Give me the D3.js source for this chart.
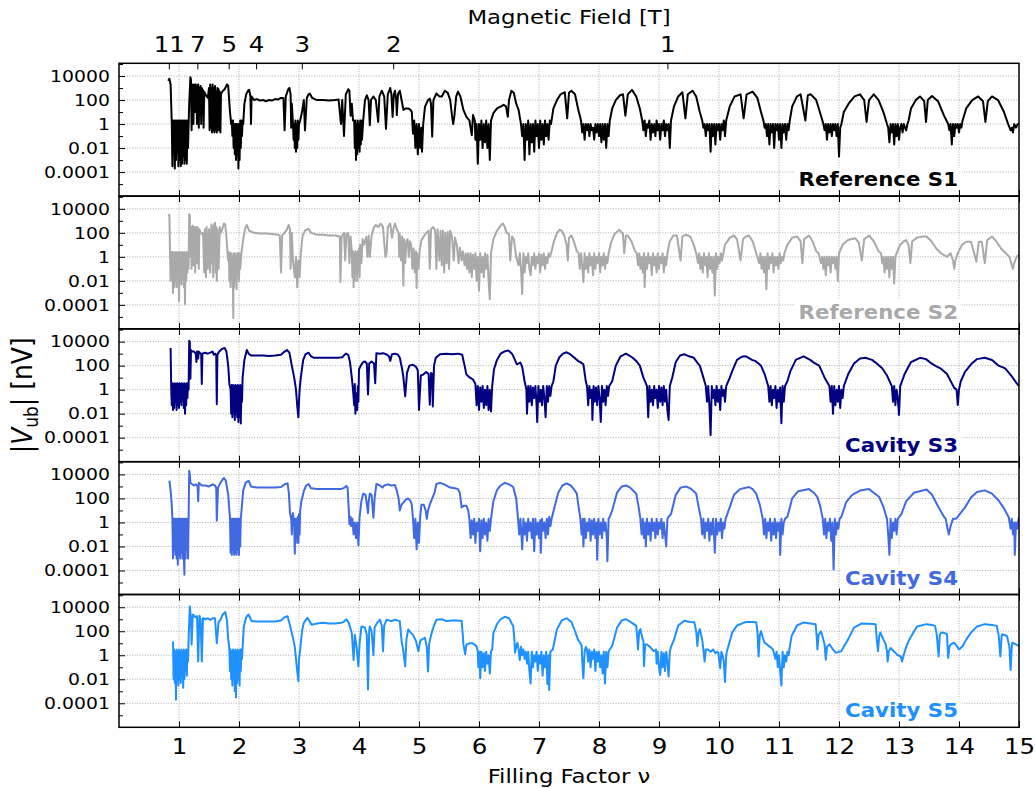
<!DOCTYPE html>
<html>
<head>
<meta charset="utf-8">
<script src="https://cdn.jsdelivr.net/npm/d3@7"></script>
<style>
  body { margin: 0; background: #fff; }
  svg text { font-family: "DejaVu Sans", sans-serif; }
</style>
</head>
<body>
<div id="chart"></div>
<script>
// |V_ub| traces: [filling factor, nV]
const s1 = [
[0.82,4e3],[0.84,6e3],[0.86,2e3],[0.88,1],
[0.89,3e-4],[0.90,2],[0.91,0.01],[0.92,2],[0.93,2e-4],[0.94,2],[0.95,1e-3],[0.96,2],[0.97,5e-3],[0.98,2],[0.99,3e-4],[1.00,2],[1.01,1e-3],[1.02,2],[1.03,3e-4],[1.04,2],[1.05,5e-4],[1.06,2],[1.07,2e-3],[1.08,2],[1.09,5e-4],[1.10,2],[1.11,1e-3],[1.12,2],[1.13,5e-4],[1.14,2],[1.15,0.01],
[1.17,50],[1.19,8e3],[1.20,5e3],[1.21,0.3],
[1.22,1e3],[1.23,2e3],[1.24,1],[1.25,1e3],[1.26,2e3],[1.27,10],[1.28,2e3],[1.29,500],[1.30,1],[1.31,1e3],[1.32,2e3],[1.33,0.5],[1.34,1e3],[1.35,300],[1.36,1.5e3],[1.37,1],[1.38,1e3],[1.40,600],[1.41,0.5],[1.42,500],[1.44,300],[1.46,200],[1.48,150],
[1.50,1e3],[1.51,0.3],[1.52,2e3],[1.53,0.5],[1.54,1e3],[1.55,0.2],[1.56,2e3],[1.57,0.3],[1.58,1e3],[1.59,0.2],[1.60,1.5e3],[1.61,0.3],[1.62,500],[1.63,0.2],[1.64,1e3],[1.65,0.3],[1.66,800],[1.67,0.3],[1.68,500],[1.69,0.2],[1.70,300],[1.72,500],
[1.76,800],[1.80,2e3],[1.82,1.5e3],[1.85,10],[1.87,1],
[1.88,2],[1.89,0.1],[1.90,2],[1.91,0.01],[1.92,1],[1.93,3e-3],[1.94,1],[1.95,1e-3],[1.96,1],[1.97,3e-3],[1.98,1],[1.99,2e-4],[2.00,1],[2.01,1e-3],[2.02,2],[2.03,0.01],[2.04,2],[2.05,0.1],[2.06,2],[2.07,1],
[2.09,50],[2.12,300],[2.15,600],[2.17,700],[2.19,200],[2.20,1],[2.21,200],[2.25,100],[2.30,120],[2.35,90],[2.40,100],[2.45,80],[2.50,100],[2.55,90],[2.60,120],[2.65,110],[2.70,150],[2.74,150],
[2.76,0.3],[2.78,200],[2.82,800],[2.84,1e3],[2.86,300],[2.87,0.5],[2.88,50],[2.90,1],[2.91,0.05],[2.92,1],[2.93,0.01],[2.94,2],[2.95,5e-3],[2.96,1],[2.97,0.01],[2.98,2],[2.99,0.05],[3.00,1],[3.02,2],
[3.05,10],[3.08,100],[3.10,0.3],[3.13,150],[3.16,300],[3.18,350],[3.22,150],[3.30,100],[3.40,100],[3.50,90],[3.60,100],[3.66,110],[3.70,1],[3.72,100],[3.75,0.1],[3.78,300],[3.82,800],[3.84,600],[3.86,5],[3.88,50],[3.90,2],
[3.92,2],[3.93,0.01],[3.94,2],[3.95,1e-3],[3.96,1],[3.97,3e-3],[3.98,2],[3.99,0.01],[4.00,1],[4.01,5e-3],[4.02,2],[4.03,0.02],[4.04,2],[4.05,0.05],[4.07,2],
[4.10,100],[4.13,250],[4.16,100],[4.18,0.8],[4.20,100],[4.24,200],[4.28,100],[4.32,1.5],[4.34,200],[4.38,600],[4.42,200],[4.45,0.4],[4.48,300],[4.52,1e3],[4.54,300],[4.56,4],[4.58,300],[4.60,600],[4.62,100],[4.63,5.6],[4.65,300],[4.68,600],[4.71,100],[4.74,15],[4.78,20],[4.82,20],[4.86,15],[4.88,10],[4.90,0.16],
[4.92,2],[4.94,0.01],[4.96,1],[4.98,3e-3],[5.00,1],[5.02,0.01],[5.04,0.5],[5.05,5e-3],[5.07,1],
[5.10,28],[5.15,100],[5.18,130],[5.20,50],[5.22,0.09],[5.24,100],[5.29,350],[5.34,200],[5.38,200],[5.43,600],[5.48,400],[5.52,100],[5.55,5],[5.57,1],[5.59,5],[5.62,200],[5.65,500],[5.69,200],[5.74,15],[5.79,4],[5.84,2],[5.88,0.12],[5.90,5.6],[5.93,2],
[5.94,0.05],[5.96,1],[5.98,5e-4],[6.00,1],[6.02,0.05],[6.04,2],[6.06,0.01],[6.08,1],[6.10,0.03],[6.12,2],[6.14,0.01],[6.16,1],[6.18,1e-3],[6.20,2],
[6.24,8],[6.30,20],[6.36,28],[6.41,40],[6.45,30],[6.48,4],[6.50,100],[6.54,600],[6.58,400],[6.62,50],[6.66,15],[6.70,1],
[6.72,0.1],[6.74,1],[6.76,1e-3],[6.78,1],[6.80,0.05],[6.82,2],[6.84,3e-3],[6.86,1],[6.88,0.03],[6.90,1],[6.92,5e-3],[6.94,2],[6.96,0.1],[6.98,1],[7.00,0.01],[7.02,2],[7.04,0.05],[7.06,1],[7.08,0.02],[7.10,2],[7.12,0.1],[7.14,1],[7.16,0.05],[7.18,2],[7.20,1],
[7.24,20],[7.30,100],[7.36,300],[7.43,450],[7.47,3],[7.50,400],[7.54,600],[7.60,300],[7.65,20],[7.70,2],
[7.72,0.2],[7.74,1],[7.76,0.05],[7.78,1],[7.80,0.3],[7.82,1],[7.84,0.1],[7.86,1],[7.88,0.3],[7.90,0.5],[7.92,0.05],[7.94,1],[7.96,0.2],[7.98,1],[8.00,0.1],[8.02,1],[8.04,0.03],[8.06,1],[8.08,0.05],[8.10,1],[8.12,0.01],[8.14,1],[8.16,0.1],[8.18,2],
[8.22,20],[8.28,100],[8.35,250],[8.40,300],[8.44,5],[8.48,300],[8.55,700],[8.62,200],[8.68,20],[8.72,2],
[8.74,0.3],[8.76,2],[8.78,0.1],[8.80,1],[8.82,0.5],[8.84,2],[8.86,0.05],[8.88,1],[8.90,0.2],[8.92,1],[8.94,0.1],[8.96,2],[8.98,0.3],[9.00,1],[9.02,0.05],[9.04,1],[9.06,0.3],[9.08,2],[9.10,0.1],[9.12,1],[9.14,0.3],[9.16,1],[9.18,0.01],[9.20,2],
[9.25,30],[9.32,200],[9.39,450],[9.44,3],[9.48,300],[9.56,600],[9.62,200],[9.68,10],[9.72,2],
[9.74,0.5],[9.76,1],[9.78,0.1],[9.80,1],[9.82,0.3],[9.84,1],[9.86,5e-3],[9.88,1],[9.90,0.1],[9.92,1],[9.94,0.02],[9.96,1],[9.98,0.3],[10.00,1],[10.02,0.05],[10.04,1],[10.06,0.3],[10.08,2],[10.10,0.1],[10.12,2],
[10.18,30],[10.26,200],[10.36,300],[10.41,3],[10.46,300],[10.56,500],[10.64,150],[10.70,10],[10.74,2],
[10.76,0.5],[10.78,1],[10.80,0.1],[10.82,1],[10.84,0.02],[10.86,1],[10.88,0.2],[10.90,1],[10.92,0.01],[10.94,1],[10.96,0.3],[10.98,1],[11.00,0.05],[11.02,1],[11.04,0.01],[11.06,1],[11.08,0.2],[11.10,1],[11.12,0.05],[11.14,1],[11.16,0.3],[11.18,2],
[11.22,30],[11.30,200],[11.36,300],[11.44,2],[11.48,250],[11.53,300],[11.62,100],[11.70,5],[11.74,1],
[11.76,0.3],[11.78,1],[11.80,0.05],[11.82,1],[11.84,0.2],[11.86,1],[11.88,0.1],[11.90,1],[11.92,0.3],[11.94,1],[11.96,0.1],[11.98,1],[12.00,2e-3],[12.02,0.5],[12.04,1],
[12.08,10],[12.16,50],[12.26,200],[12.35,300],[12.42,100],[12.46,1.5],[12.50,100],[12.58,300],[12.66,100],[12.74,10],[12.80,1],
[12.82,0.5],[12.84,0.03],[12.86,1],[12.88,0.2],[12.90,1],[12.92,0.02],[12.94,1],[12.96,0.1],[12.98,1],[13.00,0.05],[13.02,0.5],[13.04,1],[13.06,0.2],[13.08,1],[13.10,0.5],[13.12,0.3],[13.14,1],[13.16,2],
[13.20,20],[13.28,100],[13.35,200],[13.42,80],[13.45,1.5],[13.48,100],[13.55,220],[13.65,80],[13.75,5],[13.82,1],
[13.84,0.3],[13.86,1],[13.88,0.02],[13.90,1],[13.92,0.1],[13.94,1],[13.96,0.5],[13.98,1],[14.00,0.2],[14.02,1],[14.04,0.5],[14.06,2],
[14.12,20],[14.22,100],[14.32,200],[14.40,80],[14.44,1.5],[14.48,80],[14.55,200],[14.65,100],[14.75,10],[14.82,1],[14.86,0.3],[14.88,0.5],[14.90,0.2],[14.92,1],[14.95,0.5],[14.98,1],[15.0,1]
];

const s2 = [
[0.82,3.5e3],[0.84,3e3],[0.85,2.5],
[0.86,0.01],[0.87,2.5],[0.88,0.05],[0.89,2.5],[0.90,1e-3],[0.91,2.5],[0.92,3e-3],[0.93,2],[0.94,0.01],[0.95,2.5],[0.96,3e-3],[0.97,2],[0.98,0.02],[0.99,2.5],[1.00,2e-4],[1.01,2.5],[1.02,0.01],[1.03,2],[1.04,5e-3],[1.05,2.5],[1.06,0.02],[1.07,2],[1.08,3e-3],[1.09,2.5],[1.10,1.2e-4],[1.11,2],[1.12,0.01],[1.13,2.5],[1.14,0.05],[1.15,2],[1.16,0.1],
[1.17,3.5e3],[1.18,3e3],[1.19,1],
[1.20,300],[1.21,0.1],[1.22,200],[1.23,400],[1.24,0.2],[1.25,300],[1.26,100],[1.27,0.05],[1.28,300],[1.29,200],[1.30,0.3],[1.31,300],[1.32,100],[1.33,0.1],[1.34,200],[1.36,100],[1.38,80],[1.40,100],[1.42,0.05],[1.43,200],[1.45,0.02],[1.46,300],[1.48,0.1],[1.50,200],[1.52,0.05],[1.54,500],[1.55,0.3],[1.56,300],[1.57,0.02],[1.58,400],[1.60,700],[1.61,0.05],[1.62,300],[1.63,0.01],[1.64,200],[1.66,0.1],[1.68,300],[1.70,100],[1.72,200],[1.75,600],[1.77,500],[1.79,50],[1.81,2],
[1.82,0.5],[1.83,2.5],[1.84,0.01],[1.85,2],[1.86,3e-3],[1.87,2],[1.88,0.01],[1.89,1],[1.90,2e-3],[1.905,8e-6],[1.91,2],[1.92,3e-3],[1.93,2],[1.94,0.01],[1.95,1],[1.96,2e-3],[1.97,2],[1.98,0.05],[1.99,2],[2.00,0.01],[2.01,2],[2.02,0.1],[2.04,2],
[2.07,30],[2.10,200],[2.13,450],[2.17,150],[2.25,100],[2.35,90],[2.45,90],[2.55,80],[2.65,70],[2.68,60],[2.70,0.05],[2.72,60],[2.76,100],[2.80,200],[2.83,450],[2.85,200],[2.86,0.1],[2.88,100],[2.90,0.5],[2.93,0.02],[2.95,1],[2.97,3e-3],[2.99,0.5],[3.01,0.02],[3.03,2],
[3.06,60],[3.10,150],[3.16,220],[3.20,100],[3.30,70],[3.40,70],[3.50,60],[3.60,60],[3.68,50],[3.69,8e-3],[3.71,50],[3.75,100],[3.77,0.5],[3.79,80],[3.82,100],[3.84,0.3],[3.86,50],
[3.88,3],[3.89,0.02],[3.90,3],[3.91,3e-3],[3.92,2],[3.93,0.01],[3.94,3],[3.95,0.05],[3.96,2],[3.97,0.01],[3.98,3],[3.99,0.1],[4.00,5],[4.01,0.02],[4.02,10],[4.04,0.3],[4.06,30],
[4.08,10],[4.12,45],[4.14,1],[4.16,60],[4.18,1],[4.21,60],[4.25,300],[4.28,450],[4.32,300],[4.36,600],[4.40,300],[4.44,1],[4.46,2],[4.48,300],[4.52,600],[4.55,40],[4.58,300],[4.60,600],[4.63,200],
[4.66,100],[4.67,1],[4.68,80],[4.70,0.5],[4.72,50],[4.74,4e-3],[4.75,30],[4.77,0.3],[4.79,20],[4.81,30],[4.83,1],[4.85,20],[4.87,10],[4.89,0.1],[4.91,5],[4.93,0.05],[4.95,3],[4.96,2.5e-3],[4.97,2],[4.99,0.1],[5.01,3],
[5.04,25],[5.08,50],[5.12,100],[5.16,150],[5.18,0.1],[5.20,200],[5.24,300],[5.27,150],[5.29,0.1],[5.31,200],[5.34,0.5],[5.36,150],[5.38,0.2],[5.40,150],[5.42,0.05],[5.44,100],[5.46,0.3],[5.48,120],[5.50,0.1],[5.52,150],[5.55,50],[5.58,0.5],[5.60,40],[5.63,10],[5.66,0.3],[5.68,6],[5.71,0.5],[5.73,3],[5.76,0.2],[5.78,2],
[5.80,0.1],[5.82,2],[5.84,0.05],[5.86,2],[5.88,0.02],[5.90,1.5],[5.92,0.1],[5.94,2],[5.96,0.01],[5.98,1],[6.00,1.5e-3],[6.02,2],[6.04,0.05],[6.06,1],[6.08,0.02],[6.10,2],[6.12,0.1],[6.14,1.5],[6.16,0.01],[6.18,3e-4],[6.20,2],
[6.24,30],[6.30,150],[6.36,400],[6.40,600],[6.43,300],[6.46,100],[6.50,80],[6.52,0.5],[6.55,50],[6.58,30],[6.62,1],
[6.66,0.2],[6.68,2],[6.70,0.1],[6.72,8e-4],[6.74,2],[6.76,0.05],[6.78,1],[6.80,0.3],[6.82,2],[6.84,0.1],[6.86,0.03],[6.88,1],[6.90,0.2],[6.92,2],[6.94,0.1],[6.96,1],[6.98,0.3],[7.00,2],[7.02,0.05],[7.04,1.5],[7.06,0.2],[7.08,2],[7.10,0.1],[7.12,1],[7.14,0.3],[7.16,2],[7.18,1],[7.20,2],
[7.25,20],[7.30,100],[7.34,180],[7.38,150],[7.42,60],[7.46,10],[7.48,0.5],[7.50,40],[7.54,60],[7.58,20],[7.63,3],[7.66,2],
[7.68,0.1],[7.70,2],[7.72,0.2],[7.74,8e-3],[7.76,2],[7.78,0.1],[7.80,1],[7.82,0.05],[7.84,2],[7.86,0.2],[7.88,1],[7.90,0.03],[7.92,2],[7.94,0.1],[7.96,1],[7.98,0.3],[8.00,2],[8.02,0.05],[8.04,1],[8.06,0.2],[8.08,2],[8.10,0.1],[8.12,1],[8.14,0.3],[8.16,2],
[8.20,15],[8.26,80],[8.34,180],[8.40,80],[8.42,2],[8.45,60],[8.48,60],[8.54,20],[8.60,3],[8.63,2],
[8.65,0.2],[8.67,2],[8.69,0.1],[8.71,1],[8.73,0.05],[8.75,2],[8.76,3e-3],[8.78,1],[8.80,0.1],[8.82,2],[8.84,0.3],[8.86,1],[8.88,0.03],[8.90,2],[8.92,0.2],[8.94,1],[8.96,0.05],[8.98,2],[9.00,0.1],[9.02,1],[9.04,0.3],[9.06,2],[9.08,0.05],[9.10,1],[9.12,0.2],[9.14,2],
[9.18,20],[9.24,60],[9.30,60],[9.33,5],[9.36,0.5],[9.39,50],[9.45,70],[9.52,50],[9.58,10],[9.62,2],
[9.65,0.3],[9.67,2],[9.69,0.1],[9.71,1],[9.73,0.05],[9.75,2],[9.77,0.2],[9.79,1],[9.81,0.02],[9.83,2],[9.85,0.1],[9.87,1],[9.89,0.05],[9.91,1],[9.93,6e-4],[9.95,2],[9.97,0.1],[9.99,1],[10.01,0.3],[10.03,2],[10.05,0.5],
[10.10,10],[10.18,40],[10.25,60],[10.30,30],[10.36,0.5],[10.40,30],[10.45,50],[10.50,60],[10.56,20],[10.62,2],
[10.67,0.3],[10.69,2],[10.71,0.1],[10.73,1],[10.75,0.05],[10.77,1],[10.79,2e-3],[10.81,2],[10.83,0.1],[10.85,1],[10.87,0.3],[10.89,2],[10.91,0.05],[10.93,1],[10.95,0.2],[10.97,1],[10.99,0.1],[11.01,2],[11.03,0.3],[11.05,1],[11.07,0.5],[11.09,2],
[11.14,10],[11.22,40],[11.30,50],[11.36,20],[11.39,0.3],[11.42,30],[11.50,60],[11.56,20],[11.62,3],[11.66,2],
[11.70,0.3],[11.72,1],[11.74,0.1],[11.76,1],[11.78,0.03],[11.80,1],[11.82,0.2],[11.84,1],[11.86,0.05],[11.88,1],[11.90,0.3],[11.92,1],[11.94,0.1],[11.96,1],[11.98,0.01],[12.00,2],
[12.06,10],[12.15,25],[12.27,35],[12.33,15],[12.38,0.5],[12.42,30],[12.50,60],[12.58,20],[12.66,3],[12.70,2],
[12.72,0.3],[12.74,1],[12.76,0.05],[12.78,1],[12.80,0.1],[12.82,1],[12.84,0.02],[12.86,1],[12.88,0.1],[12.90,1],[12.92,6e-3],[12.94,1],[12.96,2],
[13.02,10],[13.08,20],[13.12,25],[13.16,10],[13.19,0.3],[13.22,20],[13.30,40],[13.40,50],[13.46,50],[13.54,20],[13.62,5],[13.70,2],[13.80,1],[13.86,2],[13.90,0.5],[13.92,0.1],[13.94,0.5],[13.98,2],
[14.05,10],[14.12,18],[14.20,18],[14.29,0.4],[14.33,18],[14.38,18],[14.43,0.3],[14.47,25],[14.55,50],[14.62,20],[14.70,5],[14.78,2],[14.84,1],[14.88,0.2],[14.90,0.1],[14.92,0.3],[14.96,1],[15.0,1.5]
];

const s3 = [
[0.86,3e3],[0.87,1.5],
[0.88,0.05],[0.89,3.5],[0.90,0.02],[0.91,3],[0.92,0.03],[0.93,3.5],[0.94,0.1],[0.95,3],[0.96,0.02],[0.97,3.5],[0.98,0.05],[0.99,3],[1.00,0.03],[1.01,3.5],[1.02,0.1],[1.03,3],[1.04,0.05],[1.05,3.5],[1.06,0.2],[1.07,3],[1.08,0.03],[1.09,3.5],[1.10,0.01],[1.11,3],[1.12,0.05],[1.13,3.5],[1.14,0.2],[1.15,3],[1.16,1],
[1.17,1.2e4],[1.18,1e4],[1.19,8],[1.20,2e3],[1.22,1.5e3],[1.25,1.5e3],[1.28,1e3],[1.29,200],[1.30,1.5e3],[1.31,1.5e3],[1.32,400],[1.33,1.5e3],[1.36,1e3],[1.37,1e3],[1.38,3],[1.39,1e3],[1.43,1.2e3],[1.48,1e3],[1.52,1.2e3],[1.56,1.5e3],[1.58,800],[1.60,1e3],[1.62,800],[1.63,0.06],[1.64,800],[1.67,1.5e3],[1.72,2.5e3],[1.76,3e3],[1.79,1.5e3],[1.82,100],[1.84,3],
[1.86,1],[1.87,0.01],[1.88,2.5],[1.89,5e-3],[1.90,2.5],[1.91,0.01],[1.92,2],[1.93,3e-3],[1.94,2.5],[1.95,0.01],[1.96,2],[1.97,5e-3],[1.98,2.5],[1.99,2e-3],[2.00,2],[2.01,5e-3],[2.02,2.5],[2.03,1.5e-3],[2.04,2],[2.05,0.1],[2.06,10],
[2.09,300],[2.13,2e3],[2.16,1e3],[2.20,700],[2.30,700],[2.40,700],[2.50,650],[2.60,700],[2.70,800],[2.76,1.5e3],[2.80,2e3],[2.84,1.2e3],[2.88,100],[2.92,10],[2.95,1],[2.97,0.05],[2.99,5e-3],[3.00,0.1],[3.01,1],[3.03,10],
[3.07,300],[3.11,900],[3.16,1.2e3],[3.20,600],[3.25,450],[3.35,450],[3.45,450],[3.55,450],[3.65,450],[3.72,500],[3.78,1e3],[3.82,800],[3.85,200],[3.88,10],[3.90,1],[3.92,0.05],[3.93,3],[3.94,0.01],[3.96,0.5],[3.97,0.02],[3.98,2],[3.99,0.1],[4.00,50],
[4.03,100],[4.07,200],[4.10,220],[4.13,150],[4.15,0.4],[4.17,150],[4.21,220],[4.25,150],[4.27,3.5],[4.29,1.1e3],[4.35,1e3],[4.40,1.1e3],[4.45,900],[4.50,600],[4.52,250],[4.55,900],[4.60,1e3],[4.65,800],[4.68,450],[4.72,50],[4.74,10],[4.77,0.28],[4.80,25],[4.84,100],[4.90,120],[4.95,80],[4.98,40],[5.00,0.02],[5.03,15],[5.07,18],[5.12,30],[5.16,20],[5.18,0.056],[5.20,25],[5.22,20],[5.23,0.04],[5.25,100],[5.28,450],[5.35,900],[5.45,1e3],[5.55,900],[5.65,1e3],[5.72,800],[5.76,100],[5.79,18],[5.85,10],[5.90,7],[5.94,3],
[5.96,0.05],[5.98,2],[6.00,0.02],[6.02,1.5],[6.04,0.1],[6.06,2],[6.08,0.03],[6.10,1],[6.12,0.05],[6.14,2],[6.16,0.02],[6.18,1],[6.20,0.015],[6.22,2],
[6.25,50],[6.30,300],[6.36,1e3],[6.42,1.5e3],[6.49,1.8e3],[6.55,1e3],[6.60,300],[6.63,130],[6.69,180],[6.72,80],[6.76,5],[6.79,1],
[6.80,0.01],[6.82,2],[6.84,0.1],[6.86,2],[6.88,0.05],[6.90,1.5],[6.92,0.2],[6.94,2],[6.96,0.05],[6.97,2e-3],[6.99,2],[7.01,0.1],[7.03,1],[7.05,0.05],[7.07,2],[7.09,0.2],[7.11,5e-3],[7.13,2],[7.15,0.1],[7.17,2],[7.19,0.3],[7.21,2],
[7.24,5],[7.28,100],[7.34,500],[7.40,1e3],[7.46,1.3e3],[7.52,900],[7.58,500],[7.65,250],[7.70,180],[7.74,130],[7.78,5],[7.80,2],
[7.82,0.05],[7.84,2],[7.86,0.2],[7.88,1],[7.89,3e-3],[7.91,2],[7.93,0.1],[7.95,1.5],[7.97,0.05],[7.99,2],[8.01,0.2],[8.03,2e-3],[8.05,2],[8.07,0.1],[8.09,1],[8.11,0.05],[8.13,2],[8.15,0.3],[8.17,2],
[8.22,5],[8.28,100],[8.36,600],[8.45,1e3],[8.55,500],[8.62,250],[8.68,100],[8.74,10],[8.80,2],
[8.82,5e-3],[8.84,2],[8.86,0.1],[8.88,1],[8.90,0.05],[8.92,2],[8.94,0.2],[8.96,1],[8.98,0.03],[9.00,2],[9.02,0.1],[9.04,1.5],[9.06,0.05],[9.08,2],[9.10,0.1],[9.12,1],[9.14,0.02],[9.16,3e-3],[9.18,2],
[9.22,10],[9.28,200],[9.35,700],[9.42,900],[9.50,600],[9.58,450],[9.65,150],[9.68,100],[9.74,10],[9.78,2],
[9.80,0.1],[9.82,2],[9.84,0.05],[9.86,1.6e-4],[9.88,2],[9.90,0.2],[9.92,1],[9.94,0.05],[9.96,2],[9.98,0.1],[10.00,1],[10.02,0.02],[10.04,2],[10.06,0.3],[10.08,1],[10.10,0.1],[10.12,2],
[10.18,10],[10.22,35],[10.30,300],[10.38,550],[10.45,600],[10.55,300],[10.60,250],[10.66,150],[10.70,100],[10.76,20],[10.82,2],
[10.84,0.1],[10.86,2],[10.88,0.05],[10.90,1],[10.92,0.2],[10.94,2],[10.96,0.03],[10.98,1],[11.00,0.1],[11.02,1.5],[11.04,1.6e-3],[11.06,2],[11.08,0.1],[11.10,2],
[11.14,5],[11.19,35],[11.28,300],[11.41,600],[11.52,300],[11.58,180],[11.67,100],[11.76,10],[11.84,2],
[11.86,0.1],[11.88,2],[11.90,0.01],[11.92,2],[11.94,0.05],[11.96,1],[11.98,0.1],[12.00,2],[12.02,0.03],[12.04,1],[12.06,0.2],[12.08,2],
[12.15,18],[12.25,150],[12.35,400],[12.44,450],[12.55,300],[12.61,180],[12.72,60],[12.80,15],[12.88,2],
[12.90,0.1],[12.92,2],[12.94,0.05],[12.96,1],[12.98,0.2],[13.00,8e-3],[13.02,2],
[13.09,18],[13.20,200],[13.35,450],[13.45,350],[13.52,180],[13.60,100],[13.69,60],[13.80,20],[13.92,1.4],[13.96,1],[13.98,0.054],[14.00,1],[14.03,5],
[14.10,30],[14.20,130],[14.30,350],[14.43,450],[14.55,300],[14.66,100],[14.77,60],[14.87,15],[14.95,4],[15.0,2]
];

const s4 = [
[0.84,3e3],[0.86,450],[0.88,25],
[0.89,2],[0.90,1e-3],[0.91,2],[0.92,5e-3],[0.93,2],[0.94,2e-3],[0.95,2],[0.96,1e-3],[0.97,2],[0.98,3e-4],[0.99,2],[1.00,2e-3],[1.01,2],[1.02,1e-3],[1.03,2],[1.04,3e-3],[1.05,2],[1.06,1e-3],[1.07,2],[1.08,2e-3],[1.09,4.5e-5],[1.10,2],[1.11,1e-3],[1.12,2],[1.13,5e-3],[1.14,2],[1.15,1e-3],[1.16,2],
[1.17,2e4],[1.18,1e4],[1.19,2e3],[1.22,1.5e3],[1.25,1.2e3],[1.28,1.5e3],[1.31,1e3],[1.32,60],[1.33,2e3],[1.38,1.2e3],[1.44,1.2e3],[1.50,1e3],[1.56,1.5e3],[1.60,1.2e3],[1.62,800],[1.63,1.4],[1.65,800],[1.69,2e3],[1.73,4e3],[1.75,5e3],[1.78,3e3],[1.82,220],[1.85,2],
[1.86,3e-3],[1.87,2],[1.88,2e-3],[1.89,2],[1.90,5e-3],[1.91,2],[1.92,2e-3],[1.93,2],[1.94,3e-3],[1.95,2],[1.96,2e-3],[1.97,2],[1.98,5e-3],[1.99,2],[2.00,2e-3],[2.01,2],[2.02,0.01],[2.03,2],
[2.05,30],[2.07,450],[2.11,2e3],[2.16,3e3],[2.20,1e3],[2.30,800],[2.40,800],[2.50,800],[2.60,800],[2.70,900],[2.76,1.5e3],[2.81,1.8e3],[2.83,300],[2.85,6],[2.87,2],[2.88,0.1],[2.89,3],[2.90,6],[2.92,0.5],[2.93,2.5e-3],[2.94,2],[2.95,0.05],[2.96,2],[2.97,0.02],[2.98,3],[2.99,0.02],[3.00,5],[3.01,0.1],[3.02,10],
[3.04,60],[3.08,400],[3.12,1.2e3],[3.16,1.6e3],[3.20,700],[3.30,600],[3.40,600],[3.50,600],[3.60,600],[3.70,600],[3.76,800],[3.79,1.1e3],[3.81,800],[3.83,10],[3.84,0.7],[3.86,3],[3.87,0.5],[3.89,2],[3.91,0.1],[3.93,1],[3.95,0.05],[3.97,1],[3.99,0.012],[4.01,3],
[4.04,60],[4.07,250],[4.11,200],[4.15,6],[4.16,50],[4.18,250],[4.21,200],[4.24,2.5],[4.26,100],[4.29,1.6e3],[4.35,1.2e3],[4.39,800],[4.42,1.2e3],[4.48,1.5e3],[4.54,1.2e3],[4.60,1.3e3],[4.63,450],[4.66,100],[4.68,10],[4.71,30],[4.74,45],[4.78,80],[4.82,100],[4.86,60],[4.88,30],[4.90,2],[4.92,0.05],[4.94,2],[4.96,6e-3],[4.98,1],[5.00,0.02],[5.02,3],
[5.04,30],[5.08,30],[5.11,10],[5.13,2],[5.15,10],[5.18,30],[5.22,100],[5.26,300],[5.29,1.6e3],[5.35,2e3],[5.42,1.5e3],[5.52,800],[5.60,700],[5.65,600],[5.68,300],[5.71,18],[5.75,25],[5.79,25],[5.82,10],[5.84,2],
[5.86,0.05],[5.88,1.5],[5.90,0.1],[5.92,2],[5.94,0.02],[5.96,1],[5.98,0.2],[6.00,2],[6.02,4e-3],[6.04,1.5],[6.06,0.05],[6.08,2],[6.10,0.1],[6.12,1],[6.14,0.03],[6.16,2],[6.18,0.2],[6.20,2],
[6.24,60],[6.30,500],[6.36,1.2e3],[6.43,2e3],[6.50,1.5e3],[6.57,900],[6.62,100],[6.65,2],
[6.67,0.1],[6.69,2],[6.71,0.05],[6.72,6e-3],[6.74,2],[6.76,0.1],[6.78,1],[6.80,0.03],[6.82,2],[6.84,0.2],[6.86,1],[6.88,0.05],[6.90,2],[6.92,4e-3],[6.94,2],[6.96,0.1],[6.98,1],[7.00,0.05],[7.02,1.5],[7.03,3e-3],[7.05,2],[7.07,0.2],[7.09,1],[7.11,0.05],[7.13,2],[7.15,0.1],[7.17,3],[7.19,0.5],[7.21,2],
[7.26,20],[7.32,300],[7.39,1.2e3],[7.46,1.8e3],[7.53,1.2e3],[7.58,600],[7.63,250],[7.66,20],[7.69,2],
[7.71,0.1],[7.73,2],[7.74,0.01],[7.76,2],[7.78,0.05],[7.80,1],[7.82,0.2],[7.84,2],[7.86,0.03],[7.88,1.5],[7.90,0.1],[7.92,2],[7.94,0.05],[7.96,1],[7.97,8e-4],[7.99,2],[8.01,0.1],[8.03,1],[8.05,0.05],[8.07,2],[8.09,0.2],[8.11,1],[8.13,0.05],[8.14,6e-4],[8.16,2],[8.18,3],
[8.22,10],[8.30,300],[8.38,1e3],[8.45,1.2e3],[8.52,800],[8.58,400],[8.62,250],[8.66,20],[8.69,2],
[8.71,0.1],[8.73,2],[8.75,0.05],[8.77,1],[8.78,0.01],[8.80,2],[8.82,0.1],[8.84,1],[8.86,0.03],[8.88,2],[8.90,0.2],[8.92,1],[8.94,0.05],[8.96,2],[8.98,0.1],[9.00,1],[9.02,0.3],[9.04,2],[9.06,0.05],[9.08,1],[9.10,0.1],[9.12,0.01],[9.14,2],[9.16,3],
[9.20,5],[9.28,200],[9.36,800],[9.45,1e3],[9.52,700],[9.58,400],[9.62,250],[9.66,20],[9.70,2],
[9.72,0.1],[9.74,2],[9.76,0.05],[9.78,1],[9.80,0.2],[9.82,2],[9.84,0.03],[9.86,1],[9.88,0.1],[9.90,2],[9.92,0.05],[9.93,3e-3],[9.95,2],[9.97,0.1],[9.99,1],[10.01,0.2],[10.03,2],[10.05,0.05],[10.07,1],[10.09,0.3],[10.11,2],
[10.16,10],[10.25,200],[10.35,600],[10.50,900],[10.56,600],[10.62,250],[10.68,30],[10.73,2],
[10.75,0.1],[10.77,2],[10.79,0.05],[10.81,1],[10.83,0.2],[10.85,2],[10.87,0.03],[10.89,1],[10.91,0.1],[10.93,2],[10.95,0.05],[10.97,1],[10.99,0.2],[11.01,1],[11.02,2e-3],[11.04,2],[11.06,0.1],[11.08,1],[11.10,2],
[11.14,3],[11.22,100],[11.32,400],[11.50,600],[11.58,300],[11.64,130],[11.69,20],[11.73,2],
[11.75,0.1],[11.77,2],[11.79,0.05],[11.81,1],[11.83,0.2],[11.85,2],[11.87,0.03],[11.89,1],[11.91,1.2e-4],[11.93,2],[11.95,0.1],[11.97,1],[11.99,0.3],[12.01,2],
[12.04,3],[12.12,50],[12.22,200],[12.35,450],[12.50,600],[12.58,300],[12.67,130],[12.74,20],[12.80,2],[12.82,0.1],[12.84,2e-3],[12.86,2],[12.88,0.05],[12.90,1],[12.92,0.2],[12.94,2],[12.96,0.1],[12.98,2],
[13.04,5],[13.12,60],[13.25,300],[13.46,550],[13.55,200],[13.63,35],[13.70,8],[13.75,3],[13.78,2],[13.80,0.5],[13.83,0.1],[13.86,0.5],[13.90,2],[13.95,2],[13.98,3],
[14.10,18],[14.20,120],[14.30,350],[14.43,470],[14.55,250],[14.66,68],[14.75,15],[14.83,2.6],[14.86,0.3],[14.88,2],[14.90,0.1],[14.92,1],[14.93,2e-3],[14.95,1],[14.97,0.3],[15.0,3]
];

const s5 = [
[0.90,14],[0.91,0.01],[0.92,3],[0.93,5e-3],[0.94,2],[0.95,2e-4],[0.96,3],[0.97,0.01],[0.98,2],[0.99,3e-3],[1.00,3],[1.01,0.01],[1.02,2],[1.03,5e-3],[1.04,3],[1.05,0.02],[1.06,2],[1.07,2e-3],[1.08,3],[1.09,0.01],[1.10,2],[1.11,0.05],[1.12,3],[1.13,0.02],[1.14,3],[1.15,0.3],
[1.16,20],[1.18,1.2e4],[1.20,1e3],[1.21,8],[1.23,2.5e3],[1.27,1.5e3],[1.30,1.8e3],[1.32,0.3],[1.34,2e3],[1.36,1e3],[1.38,0.3],[1.40,1.2e3],[1.44,1e3],[1.48,1.2e3],[1.52,900],[1.56,1.2e3],[1.60,1.2e3],[1.63,10],[1.66,600],[1.69,900],[1.73,2.5e3],[1.77,4e3],[1.80,800],[1.82,20],[1.83,10],
[1.84,3],[1.85,0.05],[1.86,3],[1.87,0.01],[1.88,2],[1.89,3e-3],[1.90,3],[1.91,0.01],[1.92,2],[1.93,1e-3],[1.94,3],[1.95,3e-4],[1.96,2],[1.97,5e-3],[1.98,3],[1.99,0.01],[2.00,2],[2.01,3e-3],[2.02,3],[2.03,0.05],[2.04,3],[2.05,0.5],
[2.08,250],[2.12,1.5e3],[2.16,2.5e3],[2.21,700],[2.30,650],[2.40,650],[2.50,650],[2.60,650],[2.70,800],[2.76,1.5e3],[2.81,1.8e3],[2.85,300],[2.88,70],[2.90,28],[2.93,5],[2.95,0.5],[2.97,0.05],[2.99,7e-3],[3.00,0.5],[3.02,3],
[3.05,100],[3.08,500],[3.14,1.3e3],[3.21,350],[3.30,450],[3.40,500],[3.50,450],[3.60,450],[3.70,500],[3.74,600],[3.79,1e3],[3.83,500],[3.88,70],[3.91,0.4],[3.93,50],[3.96,5],[3.99,0.12],[4.01,10],[4.04,250],[4.10,200],[4.13,50],[4.15,1.4e-3],[4.17,100],[4.18,250],[4.21,100],[4.24,1],[4.26,200],[4.30,500],[4.35,900],[4.38,300],[4.40,2.2],[4.42,300],[4.46,900],[4.54,700],[4.60,900],[4.68,700],[4.71,15],[4.74,2],[4.77,0.12],[4.79,20],[4.82,140],[4.86,80],[4.90,50],[4.95,15],[4.99,2.2],[5.02,15],[5.04,20],[5.10,28],[5.13,5],[5.15,0.045],[5.17,10],[5.21,70],[5.25,300],[5.29,900],[5.38,1e3],[5.46,700],[5.55,800],[5.63,800],[5.71,700],[5.73,50],[5.74,8],[5.77,1.2],[5.79,8],[5.85,10],[5.90,10],[5.96,5.5],
[5.98,2],[5.99,0.1],[6.01,2],[6.02,0.012],[6.04,2],[6.06,0.1],[6.08,1.5],[6.10,0.05],[6.12,2],[6.14,0.2],[6.16,1],[6.18,0.03],[6.20,2],[6.22,3],
[6.24,70],[6.30,400],[6.36,1e3],[6.43,1.6e3],[6.50,1.2e3],[6.55,400],[6.57,280],[6.59,20],[6.60,1.6],[6.62,5],[6.64,11],[6.66,3],[6.68,0.4],[6.70,5],
[6.72,1],[6.74,3],[6.76,0.5],[6.78,2],[6.80,0.2],[6.82,2],[6.84,0.05],[6.86,4.5e-3],[6.88,2],[6.90,0.1],[6.92,1],[6.94,0.3],[6.96,2],[6.98,0.05],[7.00,1],[7.02,0.2],[7.04,2],[7.06,0.02],[7.08,1],[7.10,0.1],[7.12,2],[7.14,4e-3],[7.16,1],[7.17,1.3e-3],[7.19,2],
[7.23,3],[7.30,150],[7.38,800],[7.46,1.2e3],[7.54,600],[7.60,100],[7.65,20],[7.69,10],[7.71,6],[7.73,0.05],[7.74,0.012],[7.76,2],[7.78,5],[7.80,3],
[7.82,0.3],[7.84,3],[7.86,0.1],[7.88,2],[7.90,0.5],[7.92,3],[7.94,0.05],[7.96,2],[7.98,0.3],[8.00,2],[8.02,0.1],[8.04,1],[8.06,0.03],[8.08,2],[8.10,4.5e-3],[8.12,2],[8.14,0.1],[8.16,2],[8.18,3],
[8.22,6],[8.30,200],[8.38,800],[8.45,1e3],[8.55,500],[8.62,280],[8.64,20],[8.65,3],[8.67,100],[8.69,150],[8.72,30],[8.74,15],[8.75,0.12],[8.77,8],[8.80,8],[8.85,5],[8.91,2.2],[8.95,3],
[8.96,0.2],[8.98,2],[9.00,0.1],[9.02,0.023],[9.04,2],[9.06,0.1],[9.08,1.5],[9.10,0.05],[9.12,2],[9.14,0.3],[9.16,0.017],[9.18,2],
[9.20,5],[9.25,20],[9.32,300],[9.42,750],[9.52,600],[9.59,550],[9.62,100],[9.64,6],[9.66,80],[9.68,150],[9.72,20],[9.74,3],[9.76,0.3],[9.78,3],[9.82,3],[9.86,2],[9.90,3],[9.94,1.5],[9.97,2],[9.99,1.6],[10.01,0.2],[10.02,0.085],[10.04,2],[10.06,1],[10.08,0.3],[10.10,6e-3],[10.12,1],[10.13,2],
[10.17,10],[10.22,77],[10.30,300],[10.45,600],[10.55,600],[10.62,550],[10.64,100],[10.66,0.8],[10.68,50],[10.70,100],[10.73,30],[10.76,11],[10.80,8],[10.85,5],[10.90,3],
[10.94,0.5],[10.96,2],[10.98,0.1],[11.00,1],[11.02,0.05],[11.04,3e-3],[11.06,2],[11.08,0.1],[11.10,1],[11.12,0.3],[11.14,2],[11.16,1],
[11.18,5],[11.21,40],[11.30,300],[11.41,540],[11.52,450],[11.61,390],[11.63,30],[11.64,3],[11.66,50],[11.70,100],[11.73,30],[11.76,8],[11.78,0.43],[11.80,5],[11.84,8],[11.90,3],[11.95,1.6],[12.00,2],[12.04,2.2],
[12.10,8],[12.15,20],[12.25,200],[12.38,450],[12.50,420],[12.61,390],[12.63,20],[12.65,2.2],[12.67,40],[12.69,77],[12.74,20],[12.78,8],[12.80,2],[12.81,0.3],[12.83,2],[12.86,4],[12.92,2],[12.98,1],[13.03,0.8],[13.05,0.3],[13.08,1.1],
[13.12,5],[13.17,20],[13.30,250],[13.46,390],[13.55,330],[13.60,280],[13.63,50],[13.66,0.8],[13.68,50],[13.70,77],[13.76,70],[13.80,56],[13.81,5],[13.82,0.6],[13.84,5],[13.86,8],[13.92,11],[13.96,6],[14.00,3],[14.06,5.7],
[14.12,20],[14.20,77],[14.30,250],[14.43,390],[14.55,330],[14.63,280],[14.66,50],[14.69,0.8],[14.71,40],[14.72,56],[14.80,40],[14.84,5],[14.86,0.06],[14.88,5],[14.89,11],[14.95,8],[15.0,5.7]
];

const panelLabels = ["Reference S1", "Reference S2", "Cavity S3", "Cavity S4", "Cavity S5"];
const panelColors = ["black", "darkgray", "navy", "royalblue", "dodgerblue"];
const nuTicks = [1, 2, 3, 4, 5, 6, 7, 8, 9, 10, 11, 12, 13, 14, 15];
const fieldTicks = [11, 7, 5, 4, 3, 2, 1];   // tesla, top axis
const nuTimesB = 9.14;                        // filling factor at 1 T
const yLabeled = [1e4, 1e2, 1, 1e-2, 1e-4];
const yUnlabeled = [1e5, 1e3, 10, 0.1, 1e-3, 1e-5];
const yDomain = [1e-6, 1.15e5];

const series = [s1, s2, s3, s4, s5];

const width = 1035, height = 788;
const plotLeft = 119, plotRight = 1019, plotTop = 63.3, panelH = 132.8;
const sx = 1.14; // the original figure is slightly stretched horizontally

const svg = d3.select("#chart").append("svg")
    .attr("width", width).attr("height", height)
    .style("background", "#fff");

const x = d3.scaleLinear().domain([0, 15]).range([plotLeft, plotRight]);
const fmtY = d => d >= 1 ? d3.format("d")(d) : String(d);

series.forEach((data, i) => {
    const top = plotTop + i * panelH, bottom = top + panelH;
    const y = d3.scaleLog().domain(yDomain).range([bottom, top]);
    const g = svg.append("g");

    g.append("clipPath").attr("id", `clip${i}`)
        .append("rect")
        .attr("x", plotLeft).attr("y", top)
        .attr("width", plotRight - plotLeft).attr("height", panelH);

    // dotted grid
    g.append("g").selectAll("line")
        .data(nuTicks.filter(t => t < 15))
        .join("line")
        .attr("x1", d => x(d)).attr("x2", d => x(d))
        .attr("y1", top).attr("y2", bottom)
        .attr("stroke", "#999").attr("stroke-width", 0.8)
        .attr("stroke-dasharray", "1,1.6");
    g.append("g").selectAll("line")
        .data(yLabeled)
        .join("line")
        .attr("x1", plotLeft).attr("x2", plotRight)
        .attr("y1", d => y(d)).attr("y2", d => y(d))
        .attr("stroke", "#999").attr("stroke-width", 0.8)
        .attr("stroke-dasharray", "1,1.6");

    // trace
    g.append("path")
        .datum(data)
        .attr("clip-path", `url(#clip${i})`)
        .attr("fill", "none")
        .attr("stroke", panelColors[i])
        .attr("stroke-width", 2)
        .attr("stroke-linejoin", "round")
        .attr("d", d3.line().x(d => x(d[0])).y(d => y(d[1])));

    // panel label on a white box
    const lg = g.append("g")
        .attr("transform", `translate(958,${bottom - 10}) scale(${sx},1)`);
    const lbl = lg.append("text")
        .attr("text-anchor", "end")
        .attr("font-size", 18.7)
        .attr("font-weight", "bold")
        .attr("fill", panelColors[i])
        .text(panelLabels[i]);
    const bb = lbl.node().getBBox();
    lg.insert("rect", "text")
        .attr("x", bb.x - 3).attr("y", bb.y - 1)
        .attr("width", bb.width + 6).attr("height", bb.height + 1)
        .attr("fill", "white");

    // y axis, ticks inward
    const ya = g.append("g")
        .attr("transform", `translate(${plotLeft},0)`)
        .call(d3.axisLeft(y).tickValues(yLabeled).tickFormat(fmtY)
            .tickSizeInner(-6).tickSizeOuter(0).tickPadding(8));
    ya.selectAll("text").attr("font-size", 16.5).attr("fill", "black")
        .attr("transform", `scale(${sx},1)`);
    ya.select(".domain").remove();
    const ym = g.append("g")
        .attr("transform", `translate(${plotLeft},0)`)
        .call(d3.axisLeft(y).tickValues(yUnlabeled).tickFormat("")
            .tickSizeInner(-4).tickSizeOuter(0));
    ym.select(".domain").remove();

    // x ticks on the bottom of every panel
    const xb = g.append("g")
        .attr("transform", `translate(0,${bottom})`)
        .call(d3.axisBottom(x).tickValues(nuTicks)
            .tickFormat(i === series.length - 1 ? d3.format("d") : "")
            .tickSizeInner(-6).tickSizeOuter(0).tickPadding(11.4));
    xb.selectAll("text").attr("font-size", 21.5).attr("fill", "black")
        .attr("transform", `scale(${sx},1)`);
    xb.select(".domain").remove();

    // top: magnetic field on the first panel, plain ticks elsewhere
    if (i === 0) {
        const xt = g.append("g")
            .attr("transform", `translate(0,${top})`)
            .call(d3.axisTop(x).tickValues(fieldTicks.map(b => nuTimesB / b))
                .tickFormat(v => d3.format("d")(Math.round(nuTimesB / v)))
                .tickSizeInner(-6).tickSizeOuter(0).tickPadding(11.6));
        xt.selectAll("text").attr("font-size", 21.5).attr("fill", "black")
            .attr("transform", `scale(${sx},1)`);
        xt.select(".domain").remove();
    } else {
        g.append("g")
            .attr("transform", `translate(0,${top})`)
            .call(d3.axisTop(x).tickValues(nuTicks).tickFormat("")
                .tickSizeInner(-6).tickSizeOuter(0))
            .select(".domain").remove();
    }

    g.append("rect")
        .attr("x", plotLeft).attr("y", top)
        .attr("width", plotRight - plotLeft).attr("height", panelH)
        .attr("fill", "none").attr("stroke", "black").attr("stroke-width", 1.5);
});

// axis titles
svg.append("text")
    .attr("transform", `translate(${(plotLeft + plotRight) / 2},24) scale(${sx},1)`)
    .attr("text-anchor", "middle").attr("font-size", 20)
    .text("Magnetic Field [T]");

svg.append("text")
    .attr("transform", `translate(${(plotLeft + plotRight) / 2},783) scale(${sx},1)`)
    .attr("text-anchor", "middle").attr("font-size", 20)
    .text("Filling Factor ν");

const yt = svg.append("text")
    .attr("transform", `translate(32,${plotTop + 2.5 * panelH}) rotate(-90) scale(1,${sx})`)
    .attr("text-anchor", "middle").attr("font-size", 25);
yt.append("tspan").text("|");
yt.append("tspan").attr("font-style", "italic").text("V");
yt.append("tspan").attr("font-size", 17).attr("dy", 5).text("ub");
yt.append("tspan").attr("dy", -5).text("| [nV]");
</script>
</body>
</html>
